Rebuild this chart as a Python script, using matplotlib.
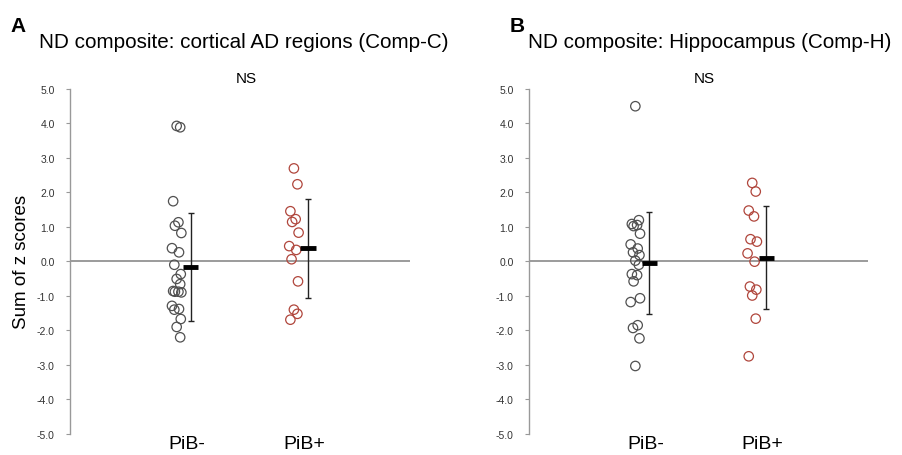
import matplotlib
matplotlib.use('Agg')
import matplotlib.pyplot as plt
import numpy as np

plt.rcParams['font.family'] = ['Liberation Sans', 'DejaVu Sans']

groups = ['PiB-', 'PiB+']

# Comp-C (cortical AD regions)
compc_neg = [3.92, 3.88, 1.74, 1.13, 1.03, 0.82, 0.38, 0.26, -0.10, -0.37, -0.51,
             -0.66, -0.86, -0.88, -0.88, -0.90, -1.29, -1.38, -1.40, -1.67, -1.90, -2.20]
compc_pos = [2.69, 2.23, 1.45, 1.22, 1.14, 0.83, 0.44, 0.33, 0.06, -0.58, -1.40, -1.52, -1.69]
compc_mean = [-0.16, 0.38]
compc_sd = [1.57, 1.43]

# Comp-H (hippocampus)
comph_neg = [4.49, 1.19, 1.08, 1.05, 1.02, 0.80, 0.49, 0.37, 0.26, 0.18, 0.02, -0.10,
             -0.37, -0.40, -0.58, -1.07, -1.18, -1.85, -1.93, -2.23, -3.03]
comph_pos = [2.27, 2.02, 1.47, 1.30, 0.64, 0.57, 0.23, -0.01, -0.73, -0.82, -0.99, -1.66, -2.75]
comph_mean = [-0.04, 0.10]
comph_sd = [1.48, 1.49]

yticks = np.arange(-5, 5.1, 1.0)
colors = ['#505050', '#b0463c']
jitter = np.array([0.0, 0.03, -0.03, 0.015, -0.015, 0.04, -0.04, 0.02, -0.02, 0.035])

fig = plt.figure(figsize=(9.03, 4.56), dpi=100)
ax1 = fig.add_axes([0.0775, 0.046, 0.3765, 0.7575])
ax2 = fig.add_axes([0.5858, 0.046, 0.3754, 0.7575])


def panel(ax, neg, pos, means, sds, ylabel=None):
    for i, vals in enumerate([neg, pos]):
        cx = i + 1
        xs = cx - 0.09 + np.resize(jitter, len(vals))
        ax.scatter(xs, vals, s=46, facecolors='none', edgecolors=colors[i],
                   linewidths=0.9, zorder=3)
        ax.errorbar(cx + 0.03, means[i], yerr=sds[i], fmt='none', ecolor='#222222',
                    elinewidth=1.0, capsize=2.5, capthick=1.0, zorder=4)
        ax.plot([cx - 0.035, cx + 0.095], [means[i], means[i]], color='black',
                lw=3.5, solid_capstyle='butt', zorder=5)
    ax.axhline(0, color='#8a8a8a', lw=1.2, zorder=1)
    ax.set_xlim(0, 2.9)
    ax.set_ylim(-5, 5)
    ax.set_yticks(yticks)
    ax.set_yticklabels([f'{v:.1f}' for v in yticks], fontsize=7.5, color='#333333')
    ax.tick_params(axis='y', length=3, width=0.8, color='#999999', pad=8)
    ax.set_xticks([1, 2])
    ax.set_xticklabels(groups, fontsize=14)
    ax.tick_params(axis='x', length=0, pad=1)
    for s in ['top', 'right', 'bottom']:
        ax.spines[s].set_visible(False)
    ax.spines['left'].set_color('#999999')
    ax.spines['left'].set_linewidth(1.0)
    ax.text(1.5, 5.3, 'NS', ha='center', va='center', fontsize=11)
    if ylabel:
        ax.set_ylabel(ylabel, fontsize=13.5, labelpad=5)


panel(ax1, compc_neg, compc_pos, compc_mean, compc_sd, ylabel='Sum of z scores')
panel(ax2, comph_neg, comph_pos, comph_mean, comph_sd)

fig.text(10 / 903, 1 - 26 / 456, 'A', fontsize=15, fontweight='bold', va='center')
fig.text(39 / 903, 1 - 42 / 456, 'ND composite: cortical AD regions (Comp-C)',
         fontsize=14.9, va='center')
fig.text(510 / 903, 1 - 26 / 456, 'B', fontsize=15, fontweight='bold', va='center')
fig.text(528 / 903, 1 - 42 / 456, 'ND composite: Hippocampus (Comp-H)',
         fontsize=14.9, va='center')

fig.savefig('out.png', dpi=100, facecolor='white')
